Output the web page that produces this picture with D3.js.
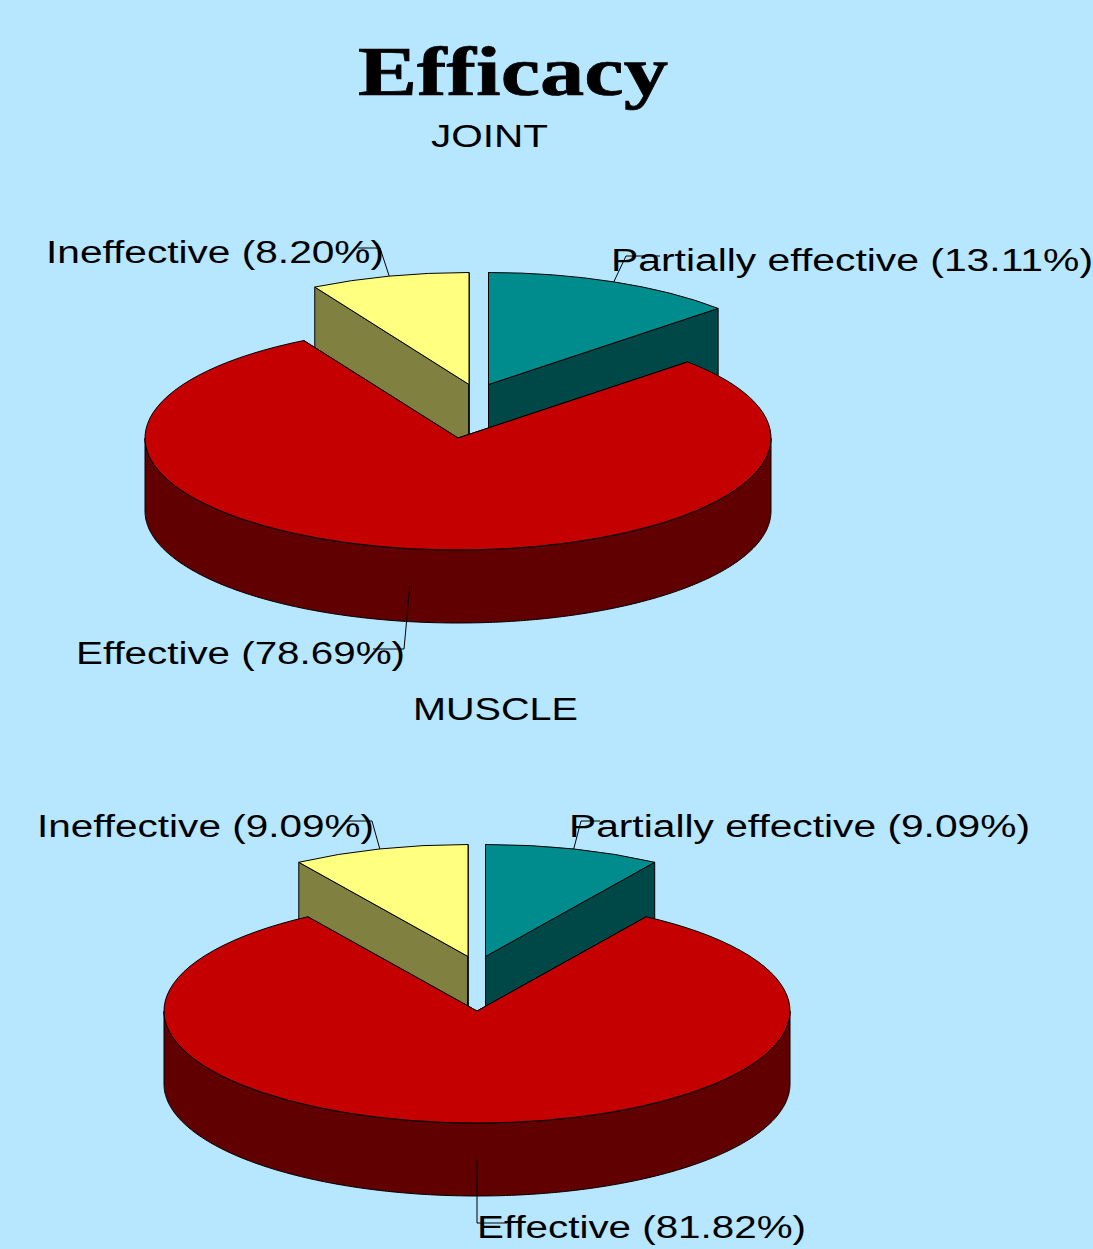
<!DOCTYPE html>
<html>
<head>
<meta charset="utf-8">
<title>Efficacy</title>
<script src="https://cdnjs.cloudflare.com/ajax/libs/d3/7.8.5/d3.min.js"></script>
<style>
	html, body { margin: 0; padding: 0; background: #b7e6ff; overflow: hidden; }
	svg { display: block; }
	text { fill: #000; font-family: "Liberation Sans", Arial, sans-serif; font-size: 31px; }
	text.title { font-family: "Liberation Serif", "Times New Roman", serif; font-size: 69px; font-weight: bold; stroke: #000; stroke-width: 0.7px; }
</style>
</head>
<body>
<svg id="chart" width="1093" height="1249"></svg>
<script>
// Clockwise from 12 o'clock.
const categories = ['Partially effective', 'Effective', 'Ineffective'];
const jointValues = [13.11, 78.69, 8.20];
const muscleValues = [9.09, 81.82, 9.09];

const topColors = ['#008c8c', '#c40000', '#ffff80'];
const sideColors = ['#004848', '#600000', '#808040'];

const RX = 313;
const RY = 112;
const DEPTH = 73;

// Where things sit on the page. centers[] = the exploded centre of each slice.
// labels[]: x, baseline y, stretched width, leader elbow and leader end.
const jointLayout = {
	name: 'JOINT', nameX: 431, nameY: 147, nameW: 117,
	centers: [[488.5, 384.5], [458, 438], [469, 384.5]],
	labels: [
		{x: 611, y: 271, w: 482, elbow: [626, 256], end: 660},
		{x: 76, y: 664, w: 329, elbow: [404, 649], end: 373},
		{x: 46, y: 263, w: 338, elbow: [380, 248], end: 358}
	]
};
const muscleLayout = {
	name: 'MUSCLE', nameX: 413, nameY: 720, nameW: 165,
	centers: [[485.5, 956.5], [477, 1011], [468, 956.5]],
	labels: [
		{x: 569, y: 837, w: 461, elbow: [581, 821], end: 600},
		{x: 477, y: 1238, w: 329, elbow: [477, 1223], end: 507},
		{x: 37, y: 837, w: 337, elbow: [372, 821], end: 345}
	]
};

const svg = d3.select('#chart');

svg.append('text')
	.attr('class', 'title')
	.attr('x', 358)
	.attr('y', 95)
	.attr('textLength', 310)
	.attr('lengthAdjust', 'spacingAndGlyphs')
	.text('Efficacy');

const pie = d3.pie().sort(null).value(d => d);
const arc = d3.arc().innerRadius(0).outerRadius(RX);
const line = d3.line();

// Tilted pie: angle measured clockwise from the top, flattened to an ellipse.
const project = (center, angle) => [
	center[0] + RX * Math.sin(angle),
	center[1] - RY * Math.cos(angle)
];

function drawPie(values, layout) {
	const g = svg.append('g');

	g.append('text')
		.attr('x', layout.nameX)
		.attr('y', layout.nameY)
		.attr('textLength', layout.nameW)
		.attr('lengthAdjust', 'spacingAndGlyphs')
		.text(layout.name);

	const slices = pie(values).map((d, i) => ({...d, i}));

	// Back slices first, the big front slice goes on top of their walls.
	const order = slices.slice().sort((a, b) => layout.centers[a.i][1] - layout.centers[b.i][1]);

	order.forEach(d => {
		const center = layout.centers[d.i];
		const bottom = [center[0], center[1] + DEPTH];

		// Cut faces
		[d.startAngle, d.endAngle].forEach(angle => {
			const rim = project(center, angle);
			g.append('path')
				.attr('d', line([center, rim, [rim[0], rim[1] + DEPTH], bottom]) + 'Z')
				.attr('fill', sideColors[d.i])
				.attr('stroke', '#000')
				.attr('stroke-width', 1);
		});

		// Outer wall, only the part that faces the viewer
		const from = Math.max(d.startAngle, Math.PI / 2);
		const to = Math.min(d.endAngle, Math.PI * 3 / 2);
		if (to > from) {
			const upper = d3.range(from, to, 0.01).concat(to).map(a => project(center, a));
			const lower = upper.map(p => [p[0], p[1] + DEPTH]).reverse();
			g.append('path')
				.attr('d', line(upper.concat(lower)) + 'Z')
				.attr('fill', sideColors[d.i])
				.attr('stroke', '#000')
				.attr('stroke-width', 1);
		}

		// Top
		g.append('path')
			.attr('d', arc(d))
			.attr('transform', `translate(${center[0]},${center[1]}) scale(1,${RY / RX})`)
			.attr('fill', topColors[d.i])
			.attr('stroke', '#000')
			.attr('stroke-width', 1)
			.attr('vector-effect', 'non-scaling-stroke');
	});

	// Labels and leader lines
	slices.forEach(d => {
		const label = layout.labels[d.i];
		g.append('text')
			.attr('x', label.x)
			.attr('y', label.y)
			.attr('textLength', label.w)
			.attr('lengthAdjust', 'spacingAndGlyphs')
			.text(`${categories[d.i]} (${d3.format('.2f')(values[d.i])}%)`);

		const mid = (d.startAngle + d.endAngle) / 2;
		const anchor = project(layout.centers[d.i], mid);
		// Front slice: the leader starts halfway down the wall.
		if (Math.cos(mid) < 0) {
			anchor[1] += DEPTH / 2;
		}
		g.append('path')
			.attr('d', line([anchor, label.elbow, [label.end, label.elbow[1]]]))
			.attr('fill', 'none')
			.attr('stroke', '#000')
			.attr('stroke-width', 1);
	});
}

drawPie(jointValues, jointLayout);
drawPie(muscleValues, muscleLayout);
</script>
</body>
</html>
